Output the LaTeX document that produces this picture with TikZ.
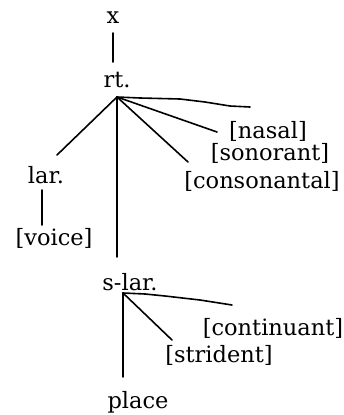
\documentclass[tikz,border=0pt]{standalone}
\usepackage{fontspec}
\setmainfont{DejaVu Serif}
\begin{document}
\begin{tikzpicture}[x=1pt, y=-1pt, font=\fontsize{22.5}{22.5}\selectfont, line join=round, line cap=round, line width=1.6pt]
		\tikzset{feat/.style={inner sep=0pt, anchor=center}}
		\useasboundingbox (0,0) rectangle (344,415);
		% các nút
		\node[feat] (x) at (113,18) {x};
		\node[feat] (rt) at (117,80) {rt.};
		\node[feat] (lar) at (46,175) {lar.};
		\node[feat] (voice) at (54,238) {[voice]};
		\node[feat] (slar) at (130,282) {s-lar.};
		\node[feat] (place) at (138,402) {place};
		\node[feat] (nasal) at (268,131) {[nasal]};
		\node[feat] (sonorant) at (270,153) {[sonorant]};
		\node[feat] (consonantal) at (262,181) {[consonantal]};
		\node[feat] (continuant) at (273,328) {[continuant]};
		\node[feat] (strident) at (219,355) {[strident]};
		% điểm nối
		\coordinate (xlow) at (113,33);
		\coordinate (rtup) at (113,62);
		\coordinate (rtj) at (117,97);
		\coordinate (rtlow) at (117,257);
		\coordinate (larup) at (57,155);
		\coordinate (larlow) at (42,190);
		\coordinate (voiceup) at (42,225);
		\coordinate (nasalend) at (217,132);
		\coordinate (consend) at (188,162);
		\coordinate (topend) at (250,107);
		\coordinate (slarj) at (123,293);
		\coordinate (strend) at (172,340);
		\coordinate (contend) at (232,305);
		\coordinate (placeup) at (123,377);
		\draw (xlow) -- (rtup);
		\draw (rtj) -- (larup);
		\draw (rtj) -- (rtlow);
		\draw (rtj) -- (140,98) -- (180,99) -- (205,102) -- (230,106) -- (topend);
		\draw (rtj) -- (nasalend);
		\draw (rtj) -- (consend);
		\draw (larlow) -- (voiceup);
		\draw (slarj) -- (placeup);
		\draw (slarj) -- (strend);
		\draw (slarj) -- (145,294) -- (165,296) -- (200,300) -- (contend);
		\end{tikzpicture}
\end{document}
